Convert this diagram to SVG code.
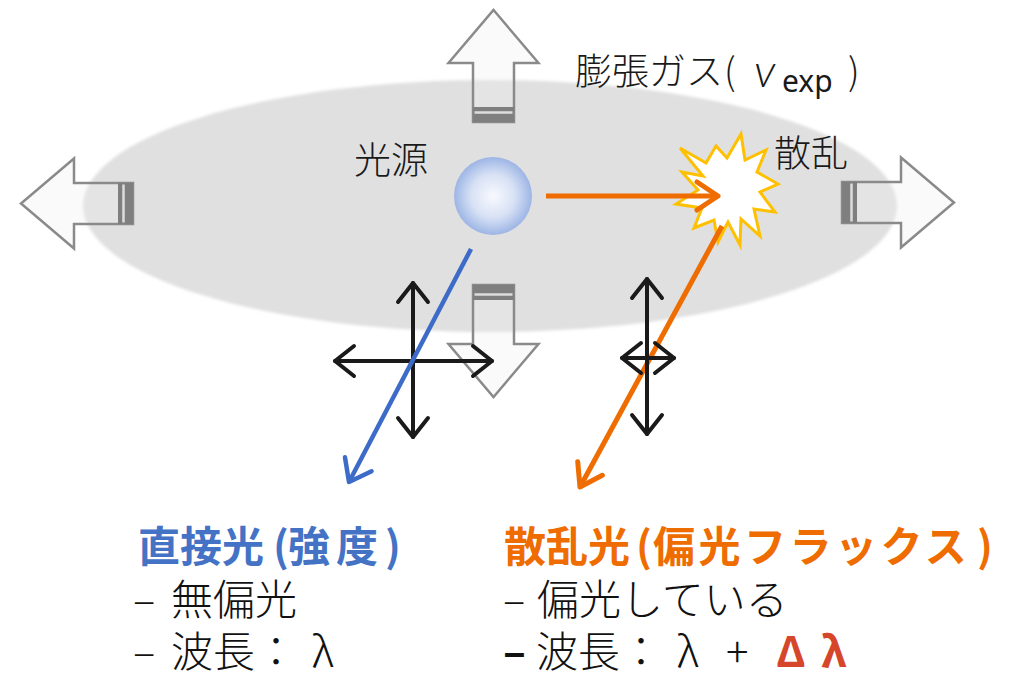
<svg xmlns="http://www.w3.org/2000/svg" xmlns:xlink="http://www.w3.org/1999/xlink" width="1018" height="675" viewBox="0 0 1018 675">
  <style>
    .jp { font-family: "Noto Sans CJK JP", "Noto Sans", sans-serif; }
    .label { font-size: 37px; fill: #1a1a1a; font-weight: 300; }
    .body { font-size: 42px; fill: #111; font-weight: 300; }
    .head { font-size: 42px; font-weight: bold; }
    .exp-shape { fill: #f0f0f0; fill-opacity: 0.3; stroke: #8a8a8a; stroke-width: 2.5; stroke-linejoin: miter; }
    .band { fill: #7f7f7f; }
    .band-line { stroke: #dcdcdc; stroke-width: 2.5; }
    .pol { fill: none; stroke: #1a1a1a; stroke-width: 4; stroke-linecap: round; marker-start: url(#headBlack); marker-end: url(#headBlack); }
  </style>
  <defs>
    <filter id="soft" x="-5%" y="-10%" width="110%" height="120%">
      <feGaussianBlur stdDeviation="1.8"/>
    </filter>
    <radialGradient id="srcFill" cx="0.5" cy="0.5" r="0.5">
      <stop offset="0" stop-color="#f8f9fd"/>
      <stop offset="0.55" stop-color="#d8e2f5"/>
      <stop offset="1" stop-color="#9db5e5"/>
    </radialGradient>
    <marker id="headBlack" markerUnits="userSpaceOnUse" orient="auto-start-reverse" refX="0" refY="0" markerWidth="40" markerHeight="40" overflow="visible">
      <path d="M-19,-15 L0,0 L-19,15" fill="none" stroke="#1a1a1a" stroke-width="4" stroke-linecap="round" stroke-linejoin="round"/>
    </marker>
    <marker id="headBlue" markerUnits="userSpaceOnUse" orient="auto" refX="0" refY="0" markerWidth="40" markerHeight="40" overflow="visible">
      <path d="M-20,-15 L0,0 L-20,15" fill="none" stroke="#3d6cc8" stroke-width="4.5" stroke-linecap="round" stroke-linejoin="round"/>
    </marker>
    <marker id="headOrange" markerUnits="userSpaceOnUse" orient="auto" refX="0" refY="0" markerWidth="40" markerHeight="40" overflow="visible">
      <path d="M-21,-14 L0,0 L-21,14" fill="none" stroke="#ee6c00" stroke-width="5" stroke-linecap="round" stroke-linejoin="round"/>
    </marker>
    <!-- block arrow of the expanding gas, pointing up, origin at the centre of the shaft base -->
    <g id="expArrow">
      <path class="exp-shape" d="M-20.5,0 L-20.5,-59 L-45,-59 L0,-112 L45,-59 L20.5,-59 L20.5,0 Z"/>
      <rect class="band" x="-20.5" y="-15" width="41" height="15"/>
      <line class="band-line" x1="-19" y1="-9.5" x2="19" y2="-9.5"/>
    </g>
  </defs>

  <rect width="1018" height="675" fill="#ffffff"/>

  <!-- expanding gas cloud -->
  <g id="gas">
    <ellipse cx="490" cy="206" rx="407" ry="126" fill="#e0e0e0" filter="url(#soft)"/>
  </g>

  <!-- expansion arrows -->
  <g id="expand-up"><use xlink:href="#expArrow" transform="translate(493.5,122)"/></g>
  <g id="expand-down"><use xlink:href="#expArrow" transform="translate(493.5,285) rotate(180)"/></g>
  <g id="expand-left"><use xlink:href="#expArrow" transform="translate(133,203.5) rotate(-90)"/></g>
  <g id="expand-right"><use xlink:href="#expArrow" transform="translate(842,202.5) rotate(90)"/></g>

  <!-- light source -->
  <g id="source">
    <circle cx="493" cy="196" r="39" fill="url(#srcFill)"/>
    <text class="jp label" x="354" y="174">光源</text>
  </g>

  <!-- scattering point -->
  <g id="scatter">
    <polygon points="680,148 706,163 716,146 727,158 741,134 745,160 766,150 757,172 778,184 760,192 775,212 754,209 760,236 741,219 740,245 728,222 718,242 714,220 694,228 702,208 676,204 698,190 682,172 703,176" fill="#ffffff" stroke="#ffc000" stroke-width="3" stroke-linejoin="miter"/>
    <text class="jp label" x="774" y="167">散乱</text>
  </g>

  <!-- gas label -->
  <g id="gas-label">
    <text class="jp label" font-size="35" y="85"><tspan x="575">膨張ガス</tspan><tspan x="724">(</tspan></text>
    <text x="754" y="87" font-family="Lato, Liberation Sans, sans-serif" font-style="italic" font-weight="300" font-size="46" fill="#1a1a1a">v</text>
    <text x="782" y="92" font-family="Noto Sans, sans-serif" font-size="30" fill="#1a1a1a">exp</text>
    <text class="jp label" font-size="35" x="848" y="85">)</text>
  </g>

  <!-- light paths and polarisation -->
  <g id="connectors">
    <line x1="546" y1="196" x2="718" y2="196" stroke="#ee6c00" stroke-width="5" marker-end="url(#headOrange)"/>
    <line x1="722" y1="226" x2="580" y2="487" stroke="#ee6c00" stroke-width="5" marker-end="url(#headOrange)"/>
    <line class="pol" x1="413" y1="283" x2="413" y2="437"/>
    <line class="pol" x1="335" y1="361" x2="492" y2="361"/>
    <line class="pol" x1="647" y1="279" x2="647" y2="434"/>
    <line class="pol" x1="622" y1="358" x2="674" y2="358"/>
    <line x1="471" y1="249" x2="349" y2="482" stroke="#3d6cc8" stroke-width="4.5" marker-end="url(#headBlue)"/>
  </g>

  <!-- direct light description -->
  <g id="direct-text">
    <text class="jp head" y="562" fill="#4472c4"><tspan x="138">直接光</tspan><tspan x="273">(</tspan><tspan x="288">強</tspan><tspan x="336">度</tspan><tspan x="385">)</tspan></text>
    <text class="jp body" y="615"><tspan x="133">–</tspan><tspan x="171">無偏光</tspan></text>
    <text class="jp body" y="667"><tspan x="133">–</tspan><tspan x="171">波長：</tspan><tspan x="312">λ</tspan></text>
  </g>

  <!-- scattered light description -->
  <g id="scattered-text">
    <text class="jp head" y="562" fill="#ee6c00"><tspan x="504">散乱光</tspan><tspan x="636">(</tspan><tspan x="653" letter-spacing="3.5">偏光フラックス</tspan><tspan x="977">)</tspan></text>
    <text class="jp body" y="615"><tspan x="503">–</tspan><tspan x="537">偏光している</tspan></text>
    <text class="jp body" y="667"><tspan x="503" font-weight="bold">–</tspan><tspan x="536">波長：</tspan><tspan x="677">λ</tspan><tspan x="726">+</tspan></text>
    <text class="jp" y="667" font-size="42" font-weight="bold" fill="#d5462a"><tspan x="776">Δ</tspan><tspan x="821">λ</tspan></text>
  </g>
</svg>
